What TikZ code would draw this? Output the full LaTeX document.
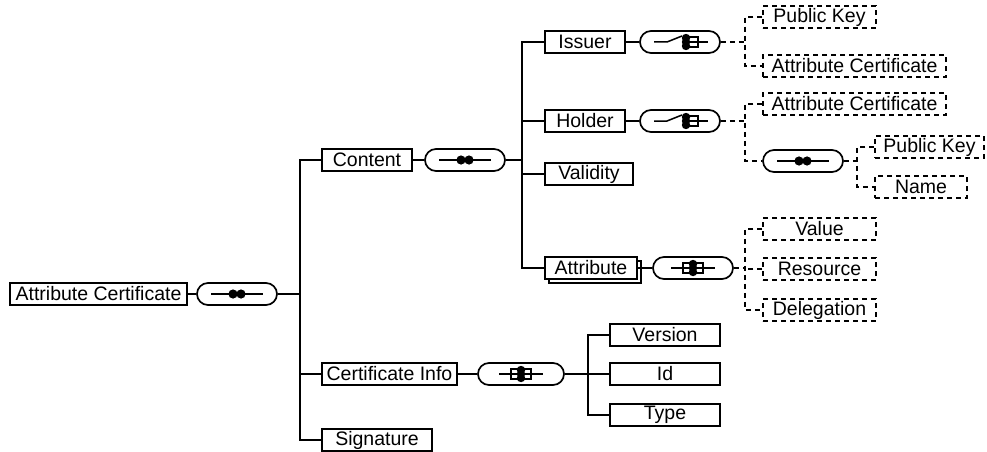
\documentclass[tikz,border=0pt]{standalone}
\usepackage{fontspec}
\setmainfont{Liberation Sans}
\begin{document}
\begin{tikzpicture}[x=1pt,y=-1pt,line width=1.5pt,
  el/.style={draw,rectangle,minimum height=22pt,inner sep=0pt,fill=white,font=\fontsize{19.5}{22}\selectfont},
  opt/.style={el,dash pattern=on 5pt off 4pt},
  pill/.style={draw,rectangle,rounded corners=11pt,minimum width=80pt,minimum height=22pt,inner sep=0pt,line width=1.7pt},
  dcon/.style={dash pattern=on 5pt off 4pt}]
\useasboundingbox (0,0) rectangle (987,452);

% symbols (xshift/yshift are canvas shifts: positive yshift goes up)
\newcommand\seqsym[1]{%
  \draw ([xshift=-26pt]#1.center) -- ([xshift=26pt]#1.center);
  \fill ([xshift=-4pt]#1.center) circle (4.6pt);
  \fill ([xshift=4pt]#1.center) circle (4.6pt);}
\newcommand\chsym[1]{%
  \draw ([xshift=-26pt]#1.center) -- ([xshift=-13pt]#1.center) -- ([xshift=2pt,yshift=6pt]#1.center);
  \draw ([xshift=7pt,yshift=5pt]#1.center) rectangle ([xshift=18pt,yshift=-5pt]#1.center);
  \draw ([xshift=6pt]#1.center) -- ([xshift=28pt]#1.center);
  \foreach \d in {-4,0,4}{\fill ([xshift=6pt,yshift=\d pt]#1.center) circle (4.2pt);}}
\newcommand\allsym[1]{%
  \draw ([xshift=-10pt,yshift=5pt]#1.center) rectangle ([xshift=10pt,yshift=-5pt]#1.center);
  \draw ([xshift=-22pt]#1.center) -- ([xshift=22pt]#1.center);
  \foreach \d in {-4,0,4}{\fill ([yshift=\d pt]#1.center) circle (4.2pt);}}

% nodes
\node[el,minimum width=177pt] (root) at (98.5,294) {Attribute Certificate};
\node[pill] (p1) at (237,294) {};
\node[el,minimum width=90pt] (content) at (367,160) {Content};
\node[pill] (p2) at (465,160) {};
\node[el,minimum width=80pt] (issuer) at (585,42) {Issuer};
\node[pill] (p3) at (680,42) {};
\node[opt,minimum width=113pt] (pk1) at (819.5,17) {Public Key};
\node[opt,minimum width=183pt] (ac1) at (854.5,66) {Attribute Certificate};
\node[el,minimum width=80pt] (holder) at (585,121) {Holder};
\node[pill] (p4) at (680,121) {};
\node[opt,minimum width=183pt] (ac2) at (854.5,104) {Attribute Certificate};
\node[pill] (p5) at (803,161) {};
\node[opt,minimum width=109pt] (pk2) at (929.5,147) {Public Key};
\node[opt,minimum width=92pt] (name) at (921,187) {Name};
\node[el,minimum width=88pt] (validity) at (589,174) {Validity};
\node[el,minimum width=92pt] (attrback) at (595,272) {};
\node[el,minimum width=92pt] (attr) at (591,268) {Attribute};
\node[pill] (p6) at (693,268) {};
\node[opt,minimum width=113pt] (value) at (819.5,229) {Value};
\node[opt,minimum width=113pt] (resource) at (819.5,269) {Resource};
\node[opt,minimum width=113pt] (deleg) at (819.5,310) {Delegation};
\node[el,minimum width=135pt] (certinfo) at (389.5,374) {Certificate Info};
\node[pill,minimum width=86pt] (p7) at (521,374) {};
\node[el,minimum width=110pt] (version) at (665,335) {Version};
\node[el,minimum width=110pt] (id) at (665,374) {Id};
\node[el,minimum width=110pt] (type) at (665,415) {Type};
\node[el,minimum width=110pt] (sig) at (377,440) {Signature};

\seqsym{p1}\seqsym{p2}\seqsym{p5}
\chsym{p3}\chsym{p4}
\allsym{p6}\allsym{p7}

% bus coordinates
\coordinate (b1) at (300,294);
\coordinate (b2) at (522,160);
\coordinate (b3) at (745,42);
\coordinate (b4) at (745,121);
\coordinate (b5) at (857,161);
\coordinate (b6) at (745,268);
\coordinate (b7) at (588,374);

% connectors
\draw (root) -- (p1);
\draw (p1) -- (b1);
\draw (content.west) -| (b1) |- (sig.west);
\draw (certinfo.west) -- (certinfo.west -| b1);
\draw (content) -- (p2);
\draw (p2) -- (b2);
\draw (issuer.west) -| (b2) |- (attr.west);
\draw (holder.west) -- (holder.west -| b2);
\draw (validity.west) -- (validity.west -| b2);
\draw (issuer) -- (p3);
\draw (holder) -- (p4);
\draw (attr.east) -- (p6.west);
\draw (certinfo) -- (p7);
\draw (p7) -- (b7);
\draw (version.west) -| (b7) |- (type.west);
\draw (id.west) -- (id.west -| b7);
\draw[dcon] (p3) -- (b3);
\draw[dcon] (pk1.west) -| (b3) |- (ac1.west);
\draw[dcon] (p4) -- (b4);
\draw[dcon] (ac2.west) -| (b4) |- (p5.west);
\draw[dcon] (p5) -- (b5);
\draw[dcon] (pk2.west) -| (b5) |- (name.west);
\draw[dcon] (p6) -- (b6);
\draw[dcon] (value.west) -| (b6) |- (deleg.west);
\draw[dcon] (resource.west) -- (resource.west -| b6);
\end{tikzpicture}
\end{document}
